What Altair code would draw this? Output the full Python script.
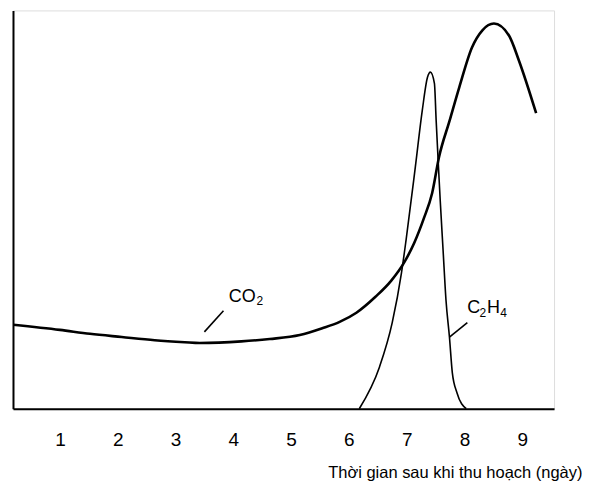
import altair as alt
import pandas as pd

# CO2 curve (days after harvest, relative level 0-100)
co2_day = [0.19, 1.0, 1.52, 2.07, 2.64, 3.16, 3.42, 4.14, 4.63, 5.15, 5.54, 5.84,
           6.13, 6.46, 6.73, 6.96, 7.13, 7.30, 7.44, 7.56, 7.74, 7.91, 8.13, 8.31,
           8.51, 8.77, 8.94, 9.24]
co2_val = [21.1, 19.8, 18.8, 18.0, 17.2, 16.7, 16.5, 16.9, 17.5, 18.5, 20.2, 21.8,
           24.1, 28.1, 32.1, 36.8, 41.6, 47.9, 54.1, 63.2, 72.2, 80.7, 90.7, 95.0,
           96.7, 93.7, 87.5, 74.2]

# C2H4 curve
c2h4_day = [6.18, 6.53, 6.75, 6.91, 6.99, 7.15, 7.27, 7.36, 7.41, 7.48, 7.51, 7.55,
            7.58, 7.63, 7.68, 7.74, 7.79, 7.87, 8.03]
c2h4_val = [0, 10.5, 21.6, 34.1, 42.4, 60.7, 74.9, 83.2, 84.5, 81.7, 72.4, 60.7,
            52.4, 39.8, 27.3, 18.0, 9.0, 4.0, 0]

x_ticks = [1, 2, 3, 4, 5, 6, 7, 8, 9]
x_title = "Thời gian sau khi thu hoạch (ngày)"

# curve labels (main text + subscripts)
label_text = ["CO", "2", "C", "2", "H", "4"]
label_day = [3.92, 4.40, 8.05, 8.26, 8.39, 8.62]
label_val = [26.8, 26.0, 24.1, 23.1, 24.1, 23.1]
label_size = [18, 12, 18, 12, 18, 12]

# leader lines
lead_x1 = [3.50, 7.74]
lead_y1 = [19.3, 18.0]
lead_x2 = [3.83, 8.05]
lead_y2 = [24.6, 21.6]

FONT = "Liberation Sans"

co2_df = pd.DataFrame({"day": co2_day, "val": co2_val})
c2h4_df = pd.DataFrame({"day": c2h4_day, "val": c2h4_val})
lab_df = pd.DataFrame({"day": label_day, "val": label_val, "t": label_text, "s": label_size})
lead_df = pd.DataFrame({"x1": lead_x1, "y1": lead_y1, "x2": lead_x2, "y2": lead_y2})

xscale = alt.Scale(domain=[0.188, 9.55], nice=False, zero=False)
yscale = alt.Scale(domain=[0, 100], nice=False, zero=False)

xaxis = alt.Axis(values=x_ticks, format="d", title=x_title, grid=False, ticks=False, tickSize=0,
                 labelFontSize=19, labelFont=FONT, labelColor="black", labelPadding=22,
                 domainColor="black", domainWidth=2, minExtent=0,
                 titleFont=FONT, titleFontSize=16.5, titleFontWeight="normal",
                 titleColor="black", titleAlign="right", titleBaseline="alphabetic",
                 titleX=570, titleY=69)
yaxis = alt.Axis(title=None, labels=False, ticks=False, tickSize=0, grid=False,
                 domainColor="black", domainWidth=2, minExtent=0, offset=0)

co2 = alt.Chart(co2_df).mark_line(color="black", strokeWidth=2.6, interpolate="monotone").encode(
    x=alt.X("day:Q", scale=xscale, axis=xaxis),
    y=alt.Y("val:Q", scale=yscale, axis=yaxis),
)
c2h4 = alt.Chart(c2h4_df).mark_line(color="black", strokeWidth=1.6, interpolate="monotone").encode(
    x=alt.X("day:Q", scale=xscale),
    y=alt.Y("val:Q", scale=yscale),
)
leads = alt.Chart(lead_df).mark_rule(color="black", strokeWidth=1.6).encode(
    x="x1:Q", y="y1:Q", x2="x2:Q", y2="y2:Q"
)
labels = alt.Chart(lab_df).mark_text(align="left", baseline="alphabetic", font=FONT,
                                     color="black").encode(
    x="day:Q", y="val:Q", text="t:N", size=alt.Size("s:Q", scale=None, legend=None)
)

chart = alt.layer(co2, c2h4, leads, labels).properties(
    width=542, height=399,
    autosize=alt.AutoSizeParams(type="none"),
    padding={"left": 5, "top": 2, "right": 28, "bottom": 75},
).configure_view(stroke="#222", strokeWidth=1.5).configure(background="white")

chart.save("out.html", embed_options={"renderer": "svg", "actions": False})
